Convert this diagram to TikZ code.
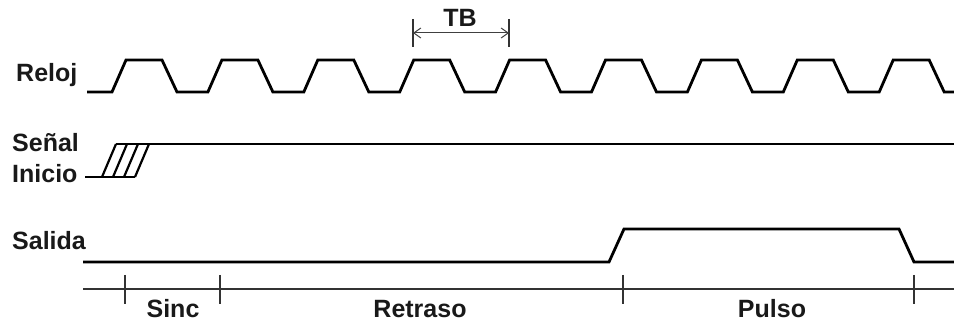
\documentclass[tikz,border=0pt]{standalone}
\usepackage{fontspec}
\setmainfont{Liberation Sans}
\usetikzlibrary{arrows.meta}
\begin{document}
\begin{tikzpicture}[x=1pt,y=-1pt,
  signal/.style={line width=2.8pt,line join=miter,black},
  hatch/.style={line width=2.2pt,black},
  axisline/.style={line width=1.6pt,black!80},
  tick/.style={line width=1.6pt,black!80},
  dimline/.style={line width=1pt,black!75},
  lbl/.style={font=\fontsize{25}{29}\selectfont\bfseries,inner sep=0pt,text=black!90}]
\useasboundingbox (0,0) rectangle (954,323);

% signal names
\node[lbl,anchor=base west] (reloj)  at (16,82)  {Reloj};
\node[lbl,anchor=base west] (senal)  at (12,152) {Señal};
\node[lbl,anchor=base west] (inicio) at (12,183) {Inicio};
\node[lbl,anchor=base west] (salida) at (12,250) {Salida};

% clock waveform: nine pulses, period ~95.9
\draw[signal] (87,92)
  \foreach \k in {0,...,8} {
    -- ({126+95.9*\k-14},92) -- ({126+95.9*\k},60)
    -- ({126+95.9*\k+36},60) -- ({126+95.9*\k+51},92)
  } -- (954,92);

% start signal with undefined (hatched) transition
\draw[signal] (85,177) -- (135,177);
\draw[signal] (116,144) -- (954,144);
\foreach \b in {102,113,124,135}
  \draw[hatch] (\b,177) -- ({\b+14},144);

% output pulse
\draw[signal] (83,262) -- (609,262) -- (624,229) -- (899,229) -- (914,262) -- (954,262);

% bit time TB
\coordinate (tbl) at (413,33);
\coordinate (tbr) at (509,33);
\draw[tick] (413,19) -- (413,47);
\draw[tick] (509,19) -- (509,47);
\draw[dimline,{Straight Barb[length=7pt,width=10pt]}-{Straight Barb[length=7pt,width=10pt]}] (tbl) -- (tbr);
\node[lbl,anchor=base] (tb) at (460,27) {TB};

% time axis with phases
\coordinate (ax0) at (83,289);
\coordinate (ax1) at (954,289);
\draw[axisline] (ax0) -- (ax1);
\foreach \t in {125,220,623,914}
  \draw[tick] (\t,275) -- (\t,304);
\node[lbl,anchor=base] (sinc)    at (173,318) {Sinc};
\node[lbl,anchor=base] (retraso) at (420,318) {Retraso};
\node[lbl,anchor=base] (pulso)   at (772,318) {Pulso};
\end{tikzpicture}
\end{document}
